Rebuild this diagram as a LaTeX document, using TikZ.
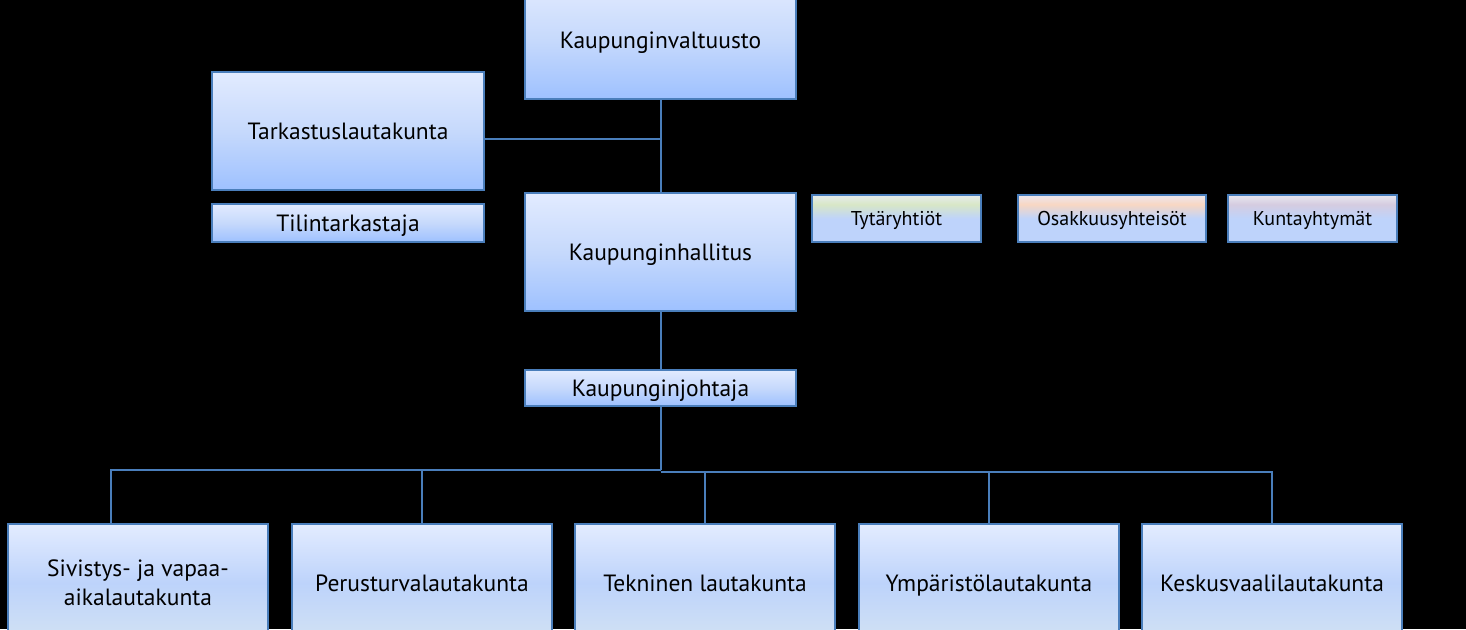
\documentclass[tikz,border=0pt]{standalone}
\usepackage{fontspec}
\setmainfont{PT Sans}
\definecolor{bord}{HTML}{4A7EBB}
\definecolor{mtop}{HTML}{E2EBFF}
\definecolor{mmid}{HTML}{C6D9FC}
\definecolor{mbot}{HTML}{9EC1FF}
\definecolor{sblue}{HTML}{BED3FB}
\definecolor{rtop}{HTML}{E3ECFF}
\definecolor{rmid}{HTML}{BDD3FB}
\definecolor{rbot}{HTML}{D2E2F3}
\definecolor{gtint}{HTML}{D8E7C6}
\definecolor{gtop}{HTML}{E6ECEE}
\definecolor{otint}{HTML}{F8D7C3}
\definecolor{otop}{HTML}{EDE7EE}
\definecolor{ktint}{HTML}{D5CCE0}
\definecolor{ktop}{HTML}{E8E7F0}
\pgfdeclareverticalshading{bottomrow}{100bp}{color(0bp)=(rbot); color(25bp)=(rbot); color(50bp)=(rmid); color(75bp)=(rtop); color(100bp)=(rtop)}
\pgfdeclareverticalshading{tytar}{100bp}{color(0bp)=(sblue); color(50bp)=(sblue); color(65bp)=(gtint); color(75bp)=(gtop); color(100bp)=(gtop)}
\pgfdeclareverticalshading{osakk}{100bp}{color(0bp)=(sblue); color(50bp)=(sblue); color(65bp)=(otint); color(75bp)=(otop); color(100bp)=(otop)}
\pgfdeclareverticalshading{kunta}{100bp}{color(0bp)=(sblue); color(50bp)=(sblue); color(65bp)=(ktint); color(75bp)=(ktop); color(100bp)=(ktop)}
\tikzset{
  orgbox/.style={draw=bord, line width=2pt, inner sep=0pt, align=center,
    font=\fontsize{23.5}{29}\selectfont, text=black},
  oneline/.style={text height=17pt, text depth=0pt},
  mainbox/.style={orgbox, oneline, top color=mtop, bottom color=mbot, middle color=mmid},
  lowbox/.style={orgbox, shading=bottomrow, minimum width=260pt, minimum height=118pt},
  smallbox/.style={orgbox, font=\fontsize{20}{22}\selectfont, text height=14.5pt, text depth=0pt, minimum height=47pt},
  link/.style={draw=bord, line width=2pt}
}
\begin{document}
\begin{tikzpicture}[x=1pt,y=-1pt]
\fill[black] (0,0) rectangle (1466,629);
\useasboundingbox (0,0) rectangle (1466,629);
\clip (0,0) rectangle (1466,629);
% top column
\node[mainbox, minimum width=271pt, minimum height=118pt] (valt) at (660.5,40) {Kaupunginvaltuusto};
\node[mainbox, minimum width=272pt, minimum height=118pt] (tark) at (348,131) {Tarkastuslautakunta};
\node[mainbox, minimum width=272pt, minimum height=38pt] (tilin) at (348,223) {Tilintarkastaja};
\node[mainbox, minimum width=271pt, minimum height=118pt] (hall) at (660.5,252) {Kaupunginhallitus};
\node[mainbox, minimum width=271pt, minimum height=36pt] (joht) at (660.5,388) {Kaupunginjohtaja};
% affiliated
\node[smallbox, shading=tytar, minimum width=169pt] (tyt) at (896.5,218.5) {Tytäryhtiöt};
\node[smallbox, shading=osakk, minimum width=188pt] (osa) at (1112,218.5) {Osakkuusyhteisöt};
\node[smallbox, shading=kunta, minimum width=169pt] (kun) at (1312.5,218.5) {Kuntayhtymät};
% boards
\node[lowbox] (b1) at (138,583) {Sivistys- ja vapaa-\\aikalautakunta};
\node[lowbox, oneline] (b2) at (422,583) {Perusturvalautakunta};
\node[lowbox, oneline] (b3) at (705,583) {Tekninen lautakunta};
\node[lowbox, oneline] (b4) at (989,583) {Ympäristölautakunta};
\node[lowbox, oneline] (b5) at (1272,583) {Keskusvaalilautakunta};
% connectors
\draw[link] (valt.south) -- (hall.north);
\draw[link] ([yshift=-8pt]tark.east) -- ([yshift=-8pt]tark.east -| valt.south);
\draw[link] (hall.south) -- (joht.north);
\coordinate (busL) at (660.5,470);
\coordinate (busR) at (660.5,471.5);
\draw[link] (joht.south) -- (busL);
\draw[link] (busL) -| ([xshift=-27pt]b1.north);
\draw[link] (busL) -| (b2.north);
\draw[link] (busR) -| (b3.north);
\draw[link] (busR) -| (b4.north);
\draw[link] (busR) -| (b5.north);
\end{tikzpicture}
\end{document}
